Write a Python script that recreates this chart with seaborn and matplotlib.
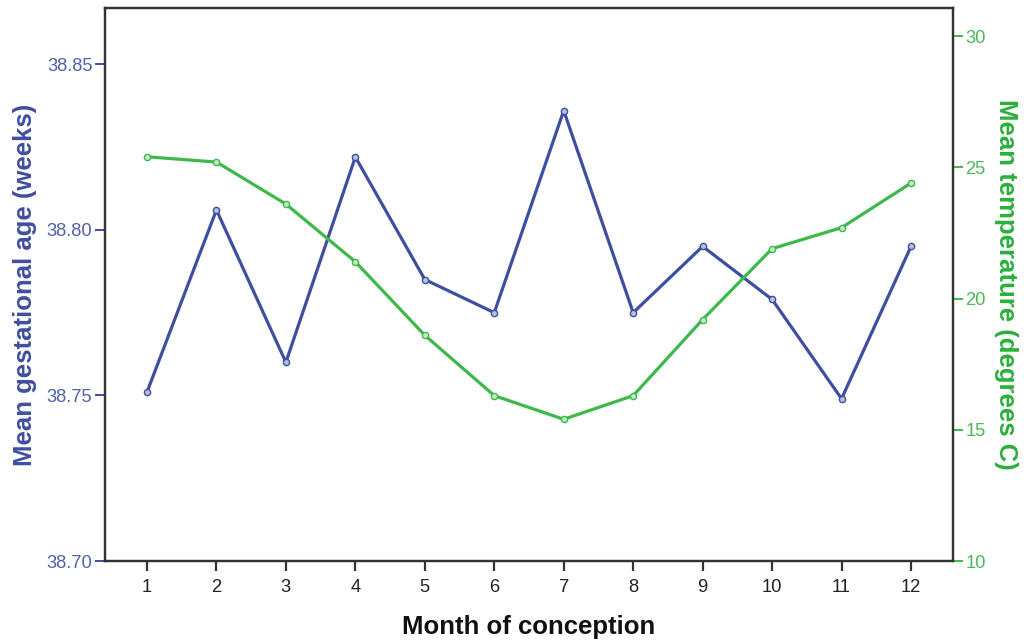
import matplotlib
matplotlib.use("Agg")
import matplotlib.pyplot as plt
import seaborn as sns
import pandas as pd

# Monthly means by month of conception
months = [1, 2, 3, 4, 5, 6, 7, 8, 9, 10, 11, 12]
gest_age_weeks = [38.751, 38.806, 38.760, 38.822, 38.785, 38.775,
                  38.836, 38.775, 38.795, 38.779, 38.749, 38.795]
temperature_c = [25.4, 25.2, 23.6, 21.4, 18.6, 16.3,
                 15.4, 16.3, 19.2, 21.9, 22.7, 24.4]

left_ticks = [38.70, 38.75, 38.80, 38.85]
right_ticks = [10, 15, 20, 25, 30]

BLUE = "#3f4f9f"
BLUE_TXT = "#5262a8"
GREEN = "#3cb94a"
GREEN_TXT = "#4cb85a"

sns.set_theme(style="white")
plt.rcParams["font.family"] = ["Liberation Sans", "DejaVu Sans"]

df = pd.DataFrame({"month": months, "gest": gest_age_weeks, "temp": temperature_c})

fig = plt.figure(figsize=(10.24, 6.43), dpi=100)
ax = fig.add_axes([0.1025, 0.1275, 0.8282, 0.8601])
ax2 = ax.twinx()

sns.lineplot(data=df, x="month", y="gest", ax=ax, color=BLUE, linewidth=2.3,
             marker="o", markersize=4.5, markerfacecolor="#b9c0de",
             markeredgecolor=BLUE, markeredgewidth=1.0)
sns.lineplot(data=df, x="month", y="temp", ax=ax2, color=GREEN, linewidth=2.3,
             marker="o", markersize=4.5, markerfacecolor="#c4e9c7",
             markeredgecolor=GREEN, markeredgewidth=1.0)

ax.set_xlim(0.395, 12.605)
ax.set_ylim(38.70, 38.867)
ax2.set_ylim(10, 31.07)

ax.set_xticks(months)
ax.set_xticklabels([str(m) for m in months])
ax.set_yticks(left_ticks)
ax.set_yticklabels([f"{v:.2f}" for v in left_ticks])
ax2.set_yticks(right_ticks)
ax2.set_yticklabels([str(v) for v in right_ticks])

for a in (ax, ax2):
    for s in a.spines.values():
        s.set_color("#333333")
        s.set_linewidth(1.6)

ax.tick_params(axis="x", direction="out", length=7, width=1.6, color="#333333",
               labelsize=13.2, labelcolor="#222222", pad=6, bottom=True)
ax.tick_params(axis="y", direction="out", length=7, width=1.4, color=BLUE,
               labelsize=13.2, labelcolor=BLUE_TXT, pad=2, left=True)
ax2.tick_params(axis="y", direction="out", length=7, width=1.4, color=GREEN,
                labelsize=13.2, labelcolor=GREEN_TXT, pad=2, right=True)

ax.set_xlabel("Month of conception", fontsize=18.5, fontweight="bold",
              color="#111111", va="center", ha="center")
ax.set_ylabel("Mean gestational age (weeks)", fontsize=18.5, fontweight="bold",
              color=BLUE, va="center", ha="center")
ax2.set_ylabel("Mean temperature (degrees C)", fontsize=18.5, fontweight="bold",
               color="#2bb03c", rotation=270, va="center", ha="center")
ax.xaxis.set_label_coords(0.5, -0.119)
ax.yaxis.set_label_coords(-0.094, 0.5)
ax2.yaxis.set_label_coords(1.063, 0.5)

ax.grid(False)
ax2.grid(False)

fig.savefig("out.png", dpi=100, facecolor="white")
